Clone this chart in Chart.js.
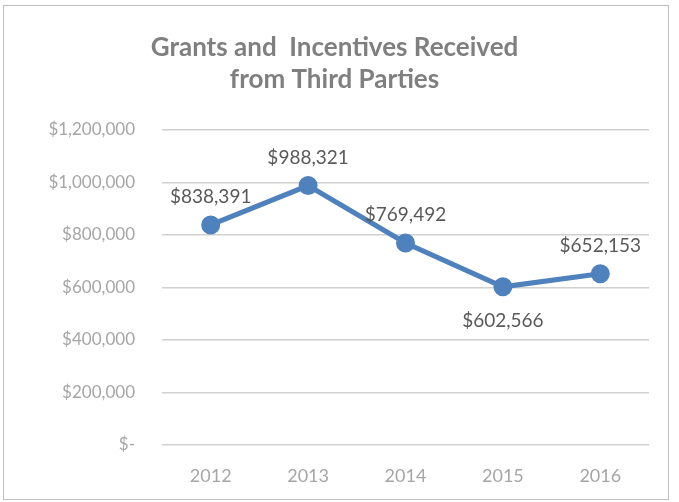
<!DOCTYPE html>
<html>
<head>
<meta charset="utf-8">
<script src="https://cdn.jsdelivr.net/npm/chart.js@4"></script>
<style>
  html, body { margin: 0; padding: 0; background: #fff; }
  #wrap { position: relative; width: 679px; height: 502px; }
  #frame { position: absolute; left: 3px; top: 5px; width: 666px; height: 495px; border: 1px solid #bfbfbf; box-sizing: border-box; pointer-events: none; }
</style>
</head>
<body>
<div id="wrap">
  <canvas id="grants-chart" width="679" height="502"></canvas>
  <div id="frame"></div>
</div>
<script>
// Data
const years = ['2012', '2013', '2014', '2015', '2016'];
const amounts = [838391, 988321, 769492, 602566, 652153];
const yTicks = [0, 200000, 400000, 600000, 800000, 1000000, 1200000];

function money(v) {
    if (v === 0) return '$-';
    return '$' + v.toLocaleString('en-US');
}

// Excel-style data labels, mostly above the point
const labelPlugin = {
    id: 'pointLabels',
    afterDatasetsDraw(chart) {
        const ctx = chart.ctx;
        const meta = chart.getDatasetMeta(0);
        const place = ['above', 'above', 'above', 'below', 'above'];
        ctx.save();
        ctx.font = '19px Lato, "Liberation Sans", sans-serif';
        ctx.fillStyle = '#595959';
        ctx.textAlign = 'center';
        ctx.textBaseline = 'middle';
        meta.data.forEach(function(pt, i) {
            const dy = place[i] === 'below' ? 34 : -28;
            ctx.fillText(money(amounts[i]), pt.x, pt.y + dy);
        });
        ctx.restore();
    }
};

new Chart(document.getElementById('grants-chart'), {
    type: 'line',
    data: {
        labels: years,
        datasets: [{
            data: amounts,
            borderColor: '#4f81bd',
            backgroundColor: '#4f81bd',
            borderWidth: 5,
            pointRadius: 7,
            pointBackgroundColor: '#4f81bd',
            pointBorderColor: '#4f81bd',
            tension: 0
        }]
    },
    options: {
        responsive: false,
        animation: false,
        layout: { padding: { left: 20, right: 30, top: 31, bottom: 0 } },
        plugins: {
            legend: { display: false },
            tooltip: { enabled: false },
            title: {
                display: true,
                text: ['Grants and  Incentives Received', 'from Third Parties'],
                color: '#7f7f7f',
                font: { family: 'Lato, "Liberation Sans", sans-serif', size: 26, weight: 'bold', lineHeight: 1.25 },
                padding: { top: 0, bottom: 34 }
            }
        },
        scales: {
            x: {
                offset: true,
                grid: { display: false },
                border: { display: false },
                afterFit: function(axis) { axis.height = 57; },
                ticks: {
                    color: '#a6a6a6',
                    padding: 12,
                    font: { family: 'Lato, "Liberation Sans", sans-serif', size: 18 }
                }
            },
            y: {
                min: 0,
                max: 1200000,
                afterBuildTicks: function(axis) {
                    axis.ticks = yTicks.map(function(v) { return { value: v }; });
                },
                afterFit: function(axis) { axis.width = 142; },
                grid: { color: '#d0d0d0', lineWidth: 1.5, drawTicks: false },
                border: { display: false },
                ticks: {
                    color: '#a6a6a6',
                    padding: 27,
                    font: { family: 'Lato, "Liberation Sans", sans-serif', size: 17 },
                    callback: function(v) { return money(v); }
                }
            }
        }
    },
    plugins: [labelPlugin]
});
</script>
</body>
</html>
